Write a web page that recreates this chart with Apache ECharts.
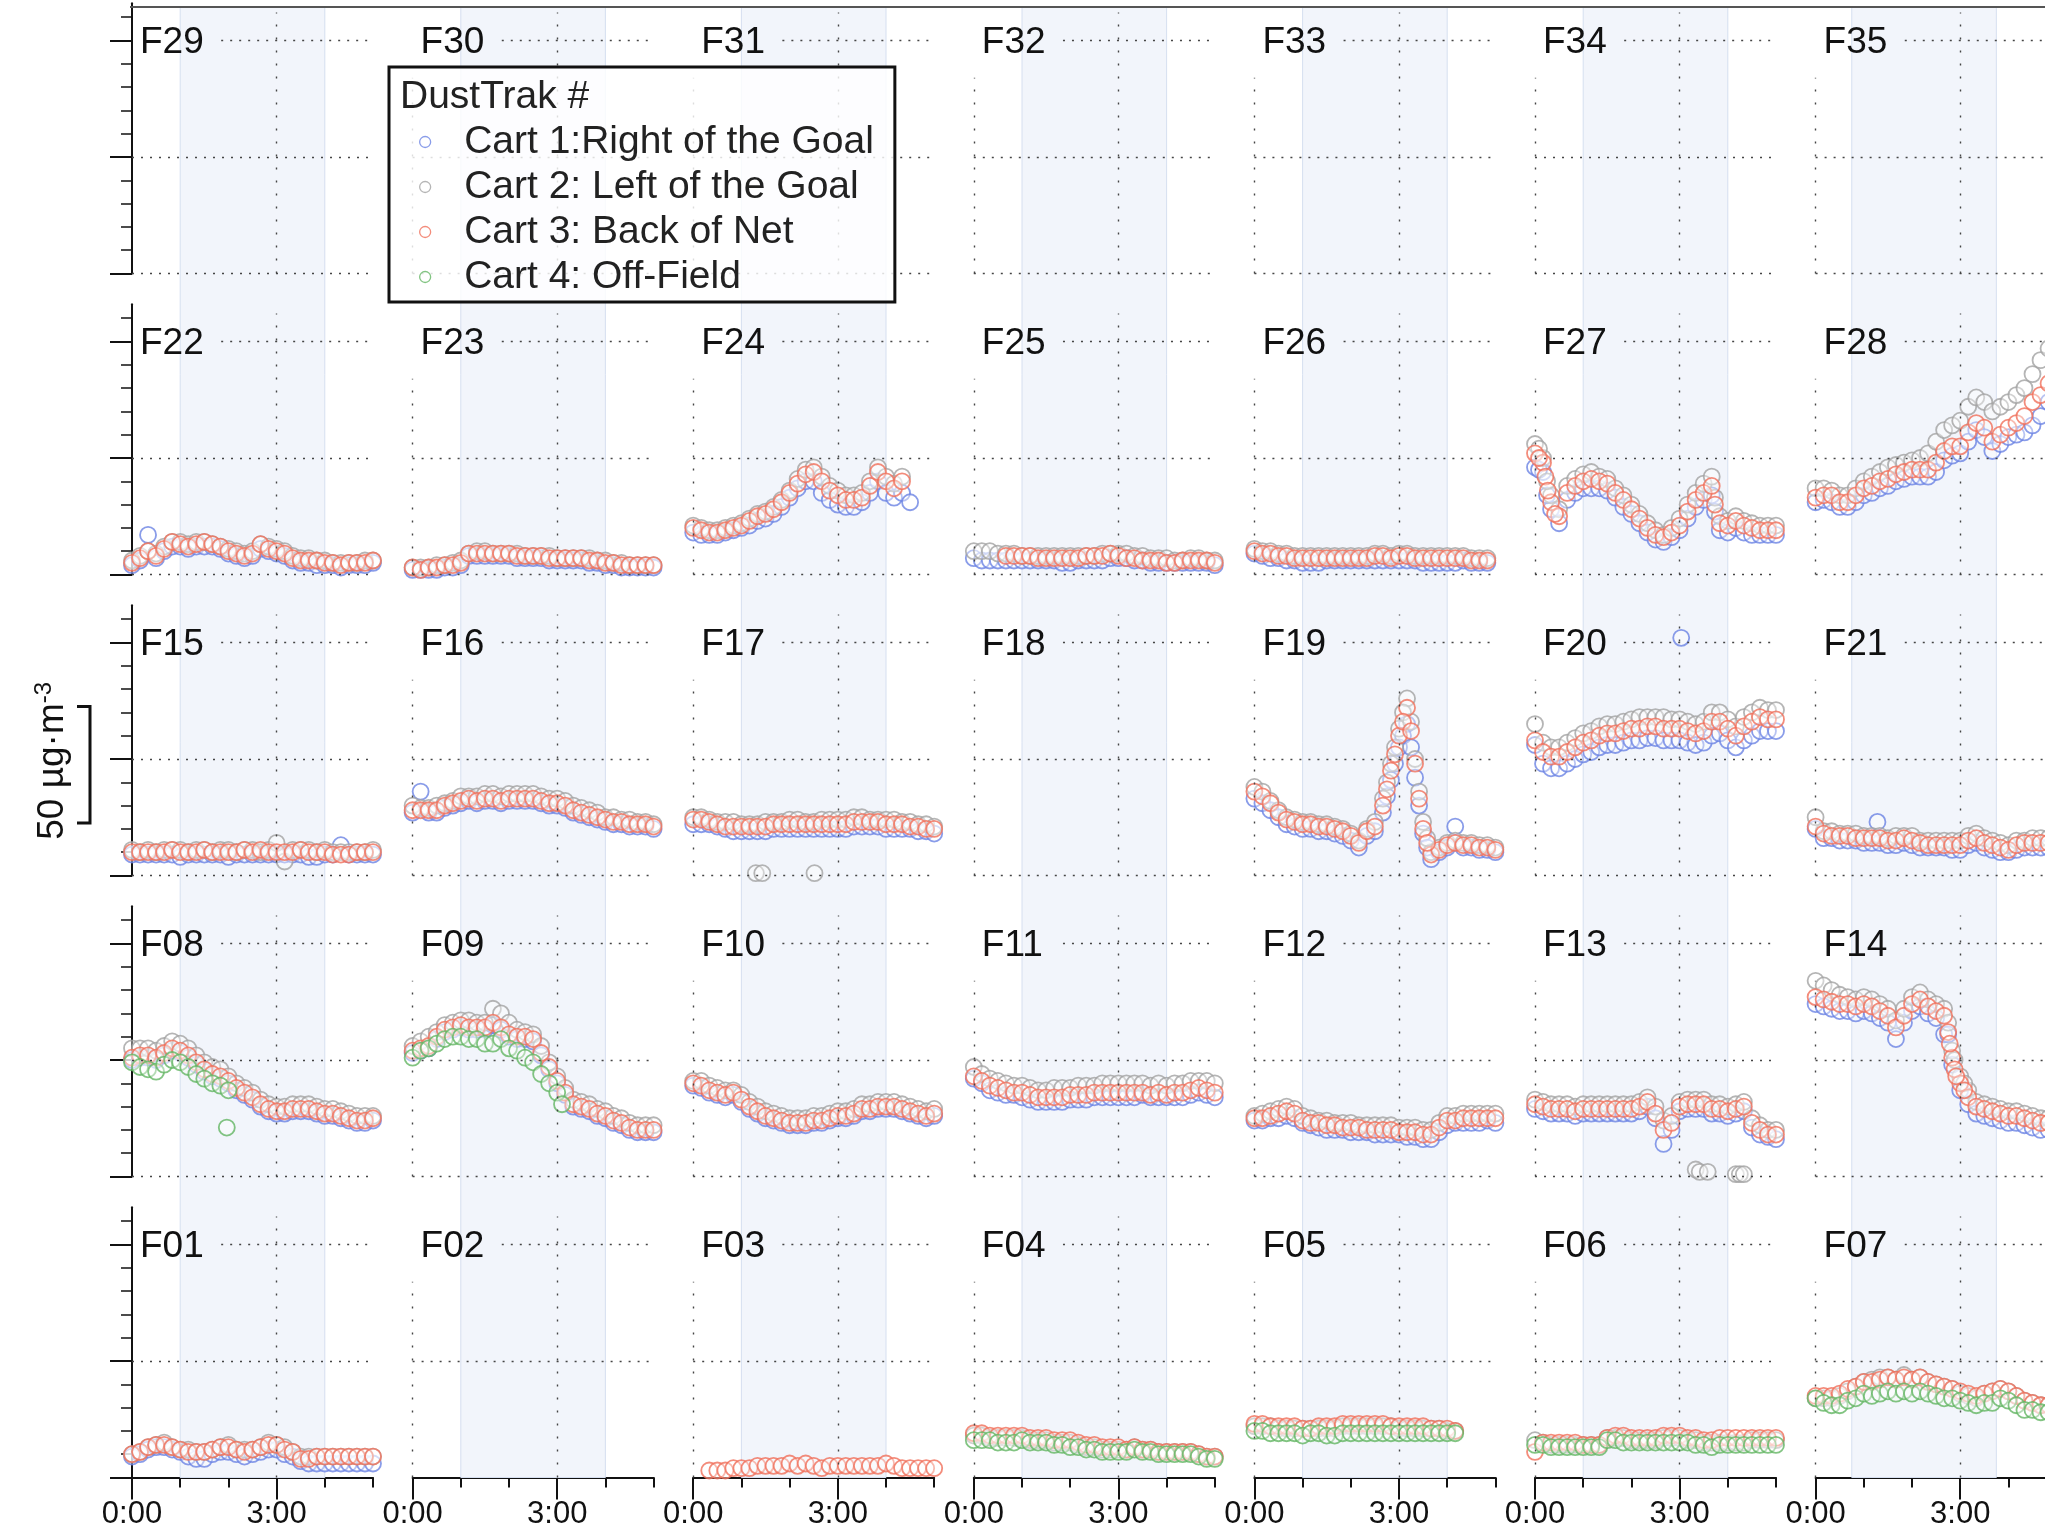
<!DOCTYPE html>
<html>
<head>
<meta charset="utf-8">
<title>DustTrak PM2.5 by field</title>
<script src="https://cdn.jsdelivr.net/npm/echarts@6/dist/echarts.min.js"></script>
<style>
  html, body { margin: 0; padding: 0; background: #fff; }
  #chart { width: 2045px; height: 1529px; }
</style>
</head>
<body>
<div id="chart"></div>
<script>
// PM2.5 (µg·m⁻³) logged by each DustTrak cart, one reading every 10 minutes from 0:00.
// _c1 Cart 1 (right of goal), _c2 Cart 2 (left of goal), _c3 Cart 3 (back of net), _c4 Cart 4 (off-field)
const SAMPLE_MIN = 10;

const F01_c1 = [9,10,12,13,13,12,11,9,8,8,10,11,11,10,9,10,11,12,12,10,9,7,6,6,6,6,6,6,6,6,6];
const F01_c2 = [10,11,13,14,15,13,12,12,11,11,12,13,14,12,12,12,13,15,14,13,11,9,9,9,9,9,9,9,9,9,9];
const F01_c3 = [10,11,13,14,14,13,12,11,11,11,12,13,13,12,11,12,13,14,14,12,11,8,8,9,9,9,9,9,9,9,9];

const F03_c3 = [null,null,3,3,3,4,4,4,5,5,5,5,6,5,6,5,4,5,5,5,5,5,5,5,6,5,4,4,4,4,4];

const F04_c2 = [18,18,17,17,17,17,17,16,16,16,15,15,15,14,13,13,12,12,12,12,13,12,12,11,11,11,11,11,10,9,9];
const F04_c3 = [19,19,18,18,18,18,18,17,17,17,16,16,16,15,14,14,13,13,13,12,13,12,12,11,11,11,11,11,10,9,9];
const F04_c4 = [16,16,16,15,15,15,16,15,15,15,14,14,13,13,12,12,11,11,11,11,12,11,11,10,10,10,10,10,9,8,8];

const F05_c2 = [22,22,22,21,21,21,21,21,21,21,21,22,22,22,22,22,22,22,21,21,21,21,21,21,20,20];
const F05_c3 = [23,23,22,22,22,22,21,21,22,22,22,23,23,23,23,23,23,22,22,22,22,22,21,21,21,20];
const F05_c4 = [20,20,19,19,19,19,18,19,19,18,18,19,19,19,19,19,19,19,19,19,19,19,19,19,19,19];

const F06_c2 = [16,15,14,14,14,14,14,14,14,17,17,17,16,16,16,16,17,17,17,16,16,15,15,15,15,15,15,16,16,16,16];
const F06_c3 = [11,15,15,15,15,15,14,14,14,17,18,18,17,17,17,17,18,18,18,17,17,16,16,17,17,17,17,17,17,17,17];
const F06_c4 = [14,14,13,13,13,13,13,13,13,16,16,15,15,15,15,15,15,15,15,15,14,14,13,14,14,14,14,14,14,14,14];

const F07_c2 = [34,34,34,35,37,39,41,42,43,43,42,44,42,43,41,40,39,38,36,35,34,36,37,38,37,35,33,32,31,31,31];
const F07_c3 = [35,35,35,36,38,39,41,41,42,43,42,43,42,43,41,40,39,38,37,36,35,36,37,38,37,35,33,32,31,31,31];
const F07_c4 = [34,32,31,31,33,34,36,35,36,37,36,37,36,37,36,35,34,34,33,32,31,32,32,34,33,31,29,29,28,28,28];

const F08_c1 = [50,51,51,50,52,54,53,51,48,45,43,42,40,37,35,33,30,28,27,27,28,28,28,27,26,26,25,24,23,23,24];
const F08_c2 = [55,55,55,54,56,58,57,55,52,49,47,46,43,40,38,36,33,31,30,30,31,31,31,30,29,29,28,27,26,26,26];
const F08_c3 = [51,52,52,51,53,55,54,52,49,46,44,43,41,38,36,34,31,29,28,28,29,29,29,28,27,27,26,25,24,24,25];
const F08_c4 = [49,47,46,45,48,50,49,47,44,42,40,39,37];

const F09_c1 = [53,54,55,59,62,63,64,63,63,63,65,63,60,59,59,58,52,46,40,35,30,29,28,26,25,23,22,20,19,19,19];
const F09_c2 = [56,58,60,62,65,66,67,67,66,66,72,70,66,63,62,61,56,49,43,38,33,32,31,29,28,26,25,23,22,22,22];
const F09_c3 = [54,55,56,60,63,64,65,64,64,64,66,64,61,60,60,59,53,47,41,36,31,30,29,27,26,24,23,21,20,20,20];
const F09_c4 = [51,54,55,57,59,60,60,59,59,57,57,59,55,54,51,49,44,40,36];

const F10_c1 = [39,38,36,35,34,35,32,29,27,25,24,23,22,22,22,23,23,24,25,25,26,28,28,29,29,29,28,27,26,25,26];
const F10_c2 = [41,41,39,38,37,37,35,32,30,28,27,26,25,25,25,26,26,27,28,28,29,31,31,32,32,32,31,30,29,28,29];
const F10_c3 = [40,39,37,36,35,36,33,30,28,26,25,24,23,23,23,24,24,25,26,26,27,29,29,30,30,30,29,28,27,26,27];

const F11_c1 = [42,40,37,36,35,35,34,33,32,32,32,32,33,33,33,34,34,34,34,34,34,35,34,34,34,34,34,35,36,35,34];
const F11_c2 = [47,44,42,41,40,39,39,38,37,37,38,38,38,39,39,39,40,40,40,40,40,40,39,40,39,40,40,41,41,41,40];
const F11_c3 = [43,41,39,38,37,36,36,35,34,34,34,34,35,35,35,36,36,36,36,36,36,36,35,36,35,36,36,37,38,37,36];

const F12_c1 = [24,24,25,25,26,25,23,22,21,20,20,20,19,19,19,18,18,18,18,17,17,16,16,19,22,23,23,23,23,24,23];
const F12_c2 = [26,27,28,29,30,29,26,25,24,24,23,23,23,22,22,22,22,22,21,21,21,20,20,23,26,26,27,27,27,27,27];
const F12_c3 = [25,25,26,27,28,27,24,23,23,22,22,21,21,21,20,20,20,20,19,19,19,18,18,21,24,24,25,25,25,25,25];

const F13_c1 = [29,28,27,27,27,26,27,27,27,27,27,27,27,28,30,25,14,20,28,29,29,29,27,27,26,27,28,21,18,17,16];
const F13_c2 = [33,32,31,31,31,30,31,31,31,31,31,31,31,32,34,30,24,26,32,33,33,33,31,31,30,31,32,25,22,20,20];
const F13_c3 = [31,30,29,29,29,28,29,29,29,29,29,29,29,30,32,27,20,23,30,31,31,31,29,29,28,29,30,23,20,18,18];

const F14_c1 = [74,73,72,71,71,70,71,70,68,66,59,66,71,73,70,68,61,48,37,31,27,26,25,24,23,23,22,21,20,20,19];
const F14_c2 = [84,82,80,78,77,76,77,76,74,72,67,72,77,79,76,74,72,54,43,37,32,31,30,29,28,28,27,26,25,25,24];
const F14_c3 = [77,76,75,74,74,73,74,73,71,69,64,69,74,76,73,71,69,51,40,34,30,29,28,27,26,26,25,24,23,23,22];

const F15_c1 = [9,9,9,9,9,9,8,9,9,9,9,9,8,9,9,9,9,9,9,9,9,9,8,8,9,9,13,9,9,9,9];
const F15_c2 = [11,10,11,10,11,11,11,10,11,11,10,11,11,10,11,11,10,11,14,6,11,11,11,10,11,10,10,10,10,10,11];
const F15_c3 = [10,10,10,10,10,11,10,10,10,11,10,10,10,10,11,10,11,10,10,10,10,11,10,10,10,9,9,9,10,10,10];

const F16_c1 = [27,36,27,27,29,30,31,32,31,32,32,31,32,32,32,32,31,30,30,29,27,26,25,24,23,22,22,21,21,21,20];
const F16_c2 = [30,29,29,30,31,32,34,34,34,35,35,34,35,35,35,35,34,33,33,32,30,29,28,27,25,25,24,24,23,23,22];
const F16_c3 = [28,28,28,28,30,31,32,33,32,33,33,32,33,33,33,33,32,31,31,30,28,27,26,25,24,23,23,22,22,22,21];

const F17_c1 = [22,22,22,21,20,19,19,19,19,19,20,20,20,20,20,20,20,20,20,20,21,21,21,21,20,20,20,20,19,19,18];
const F17_c2 = [25,25,24,23,23,23,22,22,22,23,23,23,24,24,23,23,24,24,24,24,25,25,24,24,24,24,23,23,22,22,21];
const F17_c3 = [24,24,23,22,21,21,21,21,21,21,22,22,22,22,22,22,22,22,22,22,23,23,23,23,22,22,22,21,21,20,20];

const F19_c1 = [33,31,28,25,22,21,20,20,19,19,18,17,15,12,17,19,27,41,55,65,42,18,7,10,12,21,12,12,11,11,10];
const F19_c2 = [38,36,32,28,25,24,23,23,22,22,21,20,18,15,20,23,33,48,63,76,50,23,10,12,14,15,14,14,13,13,12];
const F19_c3 = [36,34,31,27,24,23,22,22,21,21,20,19,17,14,19,21,30,45,60,72,48,20,9,11,13,14,13,13,12,12,11];

const F20_c1 = [56,48,46,46,48,50,52,53,55,56,56,57,58,58,59,59,58,58,58,57,56,57,60,61,58,55,58,60,62,62,62];
const F20_c2 = [65,57,55,55,57,59,61,62,64,65,65,66,67,68,68,68,68,67,67,66,65,66,70,70,67,64,68,70,72,71,71];
const F20_c3 = [58,53,51,51,53,55,57,58,60,61,61,62,63,63,64,64,63,63,63,62,61,62,66,66,63,60,64,66,68,67,67];

const F21_c1 = [20,16,16,15,15,15,14,14,14,13,13,14,13,12,12,12,12,11,11,13,14,12,11,10,10,11,12,12,12,12,12];
const F21_c2 = [25,19,19,18,18,18,17,17,17,16,17,17,17,15,15,15,15,15,15,17,18,16,15,14,13,15,15,16,16,16,16];
const F21_c3 = [21,18,17,17,17,16,16,16,16,15,15,16,15,14,13,13,13,13,13,15,16,14,13,12,11,13,14,14,14,14,14];

const F22_c1 = [4,6,17,7,10,12,12,11,12,12,12,11,9,8,7,8,11,10,9,8,6,5,5,4,4,4,3,4,4,4,5];
const F22_c2 = [6,8,10,9,12,14,14,13,14,14,13,12,11,10,9,10,13,12,11,10,8,7,7,6,6,5,5,5,5,6,6];
const F22_c3 = [5,7,10,8,11,14,13,12,13,14,13,12,10,9,8,9,13,11,10,9,7,6,6,6,5,5,4,5,5,5,6];

const F23_c1 = [2,2,2,2,3,3,4,8,8,8,8,8,8,7,7,7,7,6,6,6,6,6,5,5,4,4,3,3,3,3,3];
const F23_c2 = [3,3,3,4,4,5,6,9,10,10,9,9,9,9,8,8,8,8,7,7,7,7,7,6,6,5,5,4,4,4,4];
const F23_c3 = [3,2,3,3,4,4,5,9,9,9,9,9,9,8,8,8,8,7,7,7,7,7,6,6,5,5,4,4,4,4,4];

const F24_c1 = [18,17,17,17,18,19,20,21,23,24,26,29,33,37,40,40,35,32,30,29,29,31,35,40,35,33,35,31];
const F24_c2 = [21,20,19,19,20,21,22,24,26,27,29,32,36,41,45,46,42,38,36,34,34,35,40,46,42,39,42];
const F24_c3 = [20,19,18,18,19,20,21,23,25,26,28,31,35,39,43,44,40,36,34,32,32,33,38,44,40,37,40];

const F25_c1 = [7,6,6,6,6,6,6,6,6,6,6,5,5,6,6,6,6,7,7,7,6,6,5,5,5,5,5,5,5,5,4];
const F25_c2 = [10,10,10,9,9,9,8,8,8,8,8,8,8,8,8,8,9,9,9,9,8,8,7,7,7,6,6,7,7,6,6];
const F25_c3 = [null,null,null,null,8,8,8,8,7,7,7,7,7,7,8,8,8,9,8,7,7,6,6,6,5,5,6,6,6,6,5];

const F26_c1 = [9,8,7,7,6,6,5,5,5,6,6,6,6,6,6,6,6,6,6,6,6,5,5,5,5,5,6,5,5,5];
const F26_c2 = [11,10,10,9,9,8,8,8,8,8,8,8,8,8,8,9,9,8,9,9,8,8,8,8,8,8,8,7,7,7];
const F26_c3 = [10,9,9,8,8,7,7,7,7,7,7,7,7,7,7,8,8,7,8,8,7,7,7,7,7,7,7,6,6,6];

const F27_c1 = [46,44,28,22,32,35,37,37,37,36,33,29,26,22,18,15,14,16,19,24,29,32,34,19,18,20,18,17,17,17,17];
const F27_c2 = [56,50,34,28,38,41,43,44,42,41,37,34,30,26,22,19,17,20,24,30,35,39,42,25,23,25,23,22,21,21,21];
const F27_c3 = [52,48,31,25,35,38,40,41,40,39,35,32,28,24,20,17,16,18,21,27,32,35,38,22,21,23,21,20,19,19,19];

const F28_c1 = [31,32,31,29,29,31,34,35,37,38,40,41,42,42,42,44,49,51,52,57,62,59,53,56,59,60,61,64,68,74,78];
const F28_c2 = [37,37,36,34,34,37,40,42,44,46,47,48,49,50,52,57,62,64,66,72,76,74,70,72,74,77,80,86,92,97,99];
const F28_c3 = [33,34,34,31,31,34,37,38,40,41,43,44,45,45,45,48,53,55,55,61,65,63,57,60,63,65,68,74,77,82,86];

// Readings logged between the 10-minute marks: [minutes, µg·m⁻³]
const F08_c4_extra = [[118, 21]];
const F09_c4_extra = [[186, 31]];
const F13_c2_extra = [[200, 3], [205, 2], [215, 2], [250, 1], [255, 1], [260, 1]];
const F14_c1_extra = [[165, 61]];
const F14_c2_extra = [[165, 66], [173, 50], [185, 40]];
const F14_c3_extra = [[165, 62], [167, 57], [173, 46], [175, 43], [185, 37]];
const F17_c2_extra = [[78, 1], [86, 1], [151, 1]];
const F19_c1_extra = [[165, 34], [175, 48], [185, 60], [195, 55], [205, 30], [215, 12]];
const F19_c2_extra = [[165, 40], [175, 55], [185, 70], [195, 66], [205, 36], [215, 16]];
const F19_c3_extra = [[165, 37], [175, 52], [185, 66], [195, 62], [205, 33], [215, 14]];
const F20_c1_extra = [[182, 102]];
const F21_c1_extra = [[77, 23]];
const F27_c1_extra = [[5, 45], [15, 34], [224, 27]];
const F27_c2_extra = [[5, 54], [15, 40], [224, 33]];
const F27_c3_extra = [[5, 50], [13, 42], [16, 36], [25, 26], [224, 30]];

// Field layout, top row first
const panelRows = [
  ['F29', 'F30', 'F31', 'F32', 'F33', 'F34', 'F35'],
  ['F22', 'F23', 'F24', 'F25', 'F26', 'F27', 'F28'],
  ['F15', 'F16', 'F17', 'F18', 'F19', 'F20', 'F21'],
  ['F08', 'F09', 'F10', 'F11', 'F12', 'F13', 'F14'],
  ['F01', 'F02', 'F03', 'F04', 'F05', 'F06', 'F07']
];

// Shaded game period per column (minutes from 0:00)
const playStart = [60, 60, 60, 60, 60, 60, 45];
const playEnd = [240, 240, 240, 240, 240, 240, 225];

const cartNames = ['Cart 1:Right of the Goal', 'Cart 2: Left of the Goal', 'Cart 3: Back of Net', 'Cart 4: Off-Field'];
const cartColors = ['#6c83e3', '#a2a2a2', '#f06f5a', '#63b563'];

const majorHourTicks = [0, 180];
const minorHourTicks = [60, 120, 240, 300];
const majorConcTicks = [0, 50, 100];
const minorConcTicks = [10, 20, 30, 40, 60, 70, 80, 90, 110];

const fieldReadings = {
  F01: [F01_c1, F01_c2, F01_c3, null],
  F03: [null, null, F03_c3, null],
  F04: [null, F04_c2, F04_c3, F04_c4],
  F05: [null, F05_c2, F05_c3, F05_c4],
  F06: [null, F06_c2, F06_c3, F06_c4],
  F07: [null, F07_c2, F07_c3, F07_c4],
  F08: [F08_c1, F08_c2, F08_c3, F08_c4],
  F09: [F09_c1, F09_c2, F09_c3, F09_c4],
  F10: [F10_c1, F10_c2, F10_c3, null],
  F11: [F11_c1, F11_c2, F11_c3, null],
  F12: [F12_c1, F12_c2, F12_c3, null],
  F13: [F13_c1, F13_c2, F13_c3, null],
  F14: [F14_c1, F14_c2, F14_c3, null],
  F15: [F15_c1, F15_c2, F15_c3, null],
  F16: [F16_c1, F16_c2, F16_c3, null],
  F17: [F17_c1, F17_c2, F17_c3, null],
  F19: [F19_c1, F19_c2, F19_c3, null],
  F20: [F20_c1, F20_c2, F20_c3, null],
  F21: [F21_c1, F21_c2, F21_c3, null],
  F22: [F22_c1, F22_c2, F22_c3, null],
  F23: [F23_c1, F23_c2, F23_c3, null],
  F24: [F24_c1, F24_c2, F24_c3, null],
  F25: [F25_c1, F25_c2, F25_c3, null],
  F26: [F26_c1, F26_c2, F26_c3, null],
  F27: [F27_c1, F27_c2, F27_c3, null],
  F28: [F28_c1, F28_c2, F28_c3, null]
};
const fieldExtras = {
  F08: [null, null, null, F08_c4_extra],
  F09: [null, null, null, F09_c4_extra],
  F13: [null, F13_c2_extra, null, null],
  F14: [F14_c1_extra, F14_c2_extra, F14_c3_extra, null],
  F17: [null, F17_c2_extra, null, null],
  F19: [F19_c1_extra, F19_c2_extra, F19_c3_extra, null],
  F20: [F20_c1_extra, null, null, null],
  F21: [F21_c1_extra, null, null, null],
  F27: [F27_c1_extra, F27_c2_extra, F27_c3_extra, null]
};

// ---- layout ----
const FONT = '"Liberation Sans", Arial, Helvetica, sans-serif';
const COL_X0 = 132, COL_PITCH = 280.6, PANEL_W = 241;
const ROW_ZERO0 = 273.5, ROW_PITCH = 301;
const Y_MAX = 116, PX_PER_UNIT = 2.33;
const PANEL_H = Y_MAX * PX_PER_UNIT;
const TOP_RULE_Y = 7;

const inkLine = { color: '#111', width: 2 };
const hDots = { type: [2, 7], color: '#454545', width: 1.4 };
const vDots = { type: [2, 11], color: '#454545', width: 1.4 };

const grid = [], xAxis = [], yAxis = [], series = [], title = [];

function hiddenAxis(gi, max) {
  return { gridIndex: gi, type: 'value', min: 0, max: max, show: false };
}

// Column-wide shaded game periods
const fullBottom = ROW_ZERO0 + (panelRows.length - 1) * ROW_PITCH;
for (let c = 0; c < 7; c++) {
  const gi = grid.length;
  grid.push({ left: COL_X0 + c * COL_PITCH, top: TOP_RULE_Y, width: PANEL_W, height: fullBottom - TOP_RULE_Y,
              containLabel: false, outerBoundsMode: 'none' });
  xAxis.push(hiddenAxis(gi, 300));
  yAxis.push(hiddenAxis(gi, 1));
  series.push({
    type: 'scatter', xAxisIndex: xAxis.length - 1, yAxisIndex: yAxis.length - 1, data: [], silent: true, z: 1,
    markArea: {
      silent: true,
      itemStyle: { color: '#f2f5fb', borderColor: '#d6dff0', borderWidth: 1 },
      label: { show: false },
      data: [[{ xAxis: playStart[c] }, { xAxis: playEnd[c] }]]
    }
  });
}

panelRows.forEach((rowNames, r) => {
  const zeroY = ROW_ZERO0 + r * ROW_PITCH;
  const isBottom = r === panelRows.length - 1;
  rowNames.forEach((name, c) => {
    const left = COL_X0 + c * COL_PITCH;
    const isLeft = c === 0;
    const gi = grid.length;
    grid.push({ left: left, top: zeroY - PANEL_H, width: PANEL_W, height: PANEL_H,
                containLabel: false, outerBoundsMode: 'none' });

    const xi = xAxis.length;
    xAxis.push({
      gridIndex: gi, type: 'value', min: 0, max: 300, position: 'bottom',
      axisLine: { show: isBottom, onZero: false, lineStyle: inkLine },
      axisTick: { show: isBottom, customValues: majorHourTicks, length: 22, lineStyle: inkLine },
      axisLabel: { show: isBottom, customValues: majorHourTicks, formatter: v => (v / 60) + ':00',
                   fontSize: 31, fontFamily: FONT, color: '#111', margin: 21 },
      splitLine: { show: false }
    });
    if (isBottom) {
      xAxis.push({
        gridIndex: gi, type: 'value', min: 0, max: 300, position: 'bottom',
        axisLine: { show: false },
        axisTick: { show: true, customValues: minorHourTicks, length: 10, lineStyle: inkLine },
        axisLabel: { show: false }, splitLine: { show: false }
      });
    }

    const yi = yAxis.length;
    yAxis.push({
      gridIndex: gi, type: 'value', min: 0, max: Y_MAX, position: 'left',
      axisLine: { show: isLeft, onZero: false, lineStyle: inkLine },
      axisTick: { show: isLeft, customValues: majorConcTicks, length: 22, lineStyle: inkLine },
      axisLabel: { show: false }, splitLine: { show: false }
    });
    if (isLeft) {
      yAxis.push({
        gridIndex: gi, type: 'value', min: 0, max: Y_MAX, position: 'left',
        axisLine: { show: false },
        axisTick: { show: true, customValues: minorConcTicks, length: 11, lineStyle: { color: '#111', width: 1.5 } },
        axisLabel: { show: false }, splitLine: { show: false }
      });
    }

    // dotted reference lines
    const refLines = [
      [{ coord: [0, 50] }, { coord: [300, 50] }],
      [{ coord: [111, 100] }, { coord: [300, 100] }],
      [{ coord: [180, 0], lineStyle: vDots }, { coord: [180, 112] }]
    ];
    if (!isBottom) refLines.push([{ coord: [0, 0] }, { coord: [300, 0] }]);
    if (!isLeft) refLines.push([{ coord: [0, 0], lineStyle: vDots }, { coord: [0, 84] }]);
    series.push({
      type: 'scatter', xAxisIndex: xi, yAxisIndex: yi, data: [], silent: true, z: 2,
      markLine: { silent: true, symbol: ['none', 'none'], label: { show: false }, lineStyle: hDots,
                  emphasis: { disabled: true }, data: refLines }
    });

    title.push({
      text: name, left: left + 8, top: zeroY - 230.5 - 20, padding: 0,
      textStyle: { fontSize: 37, fontWeight: 'normal', fontFamily: FONT, color: '#111', lineHeight: 40 }
    });

    const readings = fieldReadings[name] || [];
    const extras = fieldExtras[name] || [];
    for (let k = 0; k < 4; k++) {
      if (!readings[k]) continue;
      const pts = [];
      readings[k].forEach((v, i) => { if (v != null) pts.push([i * SAMPLE_MIN, v]); });
      if (extras[k]) extras[k].forEach(p => pts.push(p));
      series.push({
        type: 'scatter', name: cartNames[k], xAxisIndex: xi, yAxisIndex: yi,
        data: pts, symbol: 'circle', symbolSize: 16, silent: true, z: 3,
        itemStyle: { color: 'rgba(255,255,255,0.5)', borderColor: cartColors[k], borderWidth: 1.8 },
        emphasis: { disabled: true }
      });
    }
  });
});

// 50 µg·m⁻³ scale bar beside the middle row
const scaleBottom = ROW_ZERO0 + 2 * ROW_PITCH - 22.5 * PX_PER_UNIT;
const scaleTop = scaleBottom - 50 * PX_PER_UNIT;

const option = {
  animation: false,
  backgroundColor: '#fff',
  grid: grid,
  xAxis: xAxis,
  yAxis: yAxis,
  title: title,
  legend: {
    data: cartNames,
    orient: 'vertical',
    left: 389, top: 67,
    padding: [55, 21, 5, 30],
    itemGap: 5, itemWidth: 68, itemHeight: 11,
    icon: 'circle',
    itemStyle: { color: 'rgba(255,255,255,0)', borderColor: 'inherit', borderWidth: 1.3 },
    textStyle: { fontSize: 39, fontFamily: FONT, color: '#222', lineHeight: 40 },
    backgroundColor: 'rgba(255,255,255,0.82)',
    borderColor: '#111', borderWidth: 3, borderRadius: 0,
    selectedMode: false, z: 10
  },
  graphic: [
    { type: 'line', silent: true, z: 5,
      shape: { x1: 130, y1: TOP_RULE_Y, x2: 2045, y2: TOP_RULE_Y },
      style: { stroke: '#555', lineWidth: 2 } },
    { type: 'text', silent: true, z: 20, x: 400, y: 97,
      style: { text: 'DustTrak #', fontSize: 39, fontFamily: FONT, fill: '#222', align: 'left', verticalAlign: 'middle' } },
    { type: 'polyline', silent: true, z: 5,
      shape: { points: [[77, scaleTop], [90, scaleTop], [90, scaleBottom], [77, scaleBottom]] },
      style: { stroke: '#111', lineWidth: 3, fill: null } },
    { type: 'text', silent: true, z: 5, x: 53, y: (scaleTop + scaleBottom) / 2 - 4, rotation: Math.PI / 2,
      style: {
        text: '{n|50 µg·m}{s|-3}', align: 'center', verticalAlign: 'middle',
        rich: {
          n: { fontSize: 37, fontFamily: FONT, fill: '#111', lineHeight: 42 },
          s: { fontSize: 24, fontFamily: FONT, fill: '#111', lineHeight: 42, verticalAlign: 'top' }
        }
      } }
  ],
  series: series
};

const chart = echarts.init(document.getElementById('chart'), null, { renderer: 'canvas' });
chart.setOption(option);
</script>
</body>
</html>
